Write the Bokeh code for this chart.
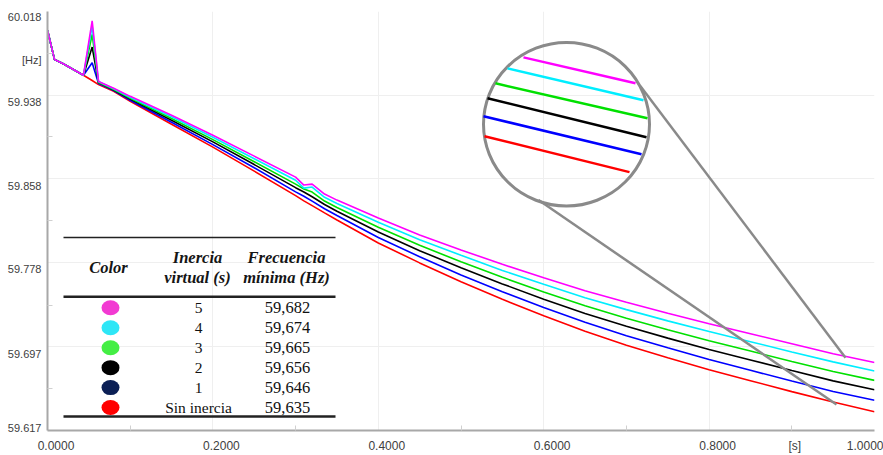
from bokeh.plotting import figure
from bokeh.models import Range1d, FixedTicker, CustomJSTickFormatter
from bokeh.core.properties import value
from bokeh.embed import file_html
from bokeh.resources import INLINE

# ---------------- data ----------------
time_s = [0.0, 0.0085, 0.019, 0.0435, 0.054, 0.0617, 0.08, 0.10, 0.15, 0.20, 0.25, 0.30,
          0.31, 0.32, 0.335, 0.35, 0.40, 0.45, 0.50, 0.55, 0.60, 0.65, 0.70, 0.75, 0.80,
          0.85, 0.90, 0.95, 1.00]

freq_h5 = [60.000, 59.972, 59.968, 59.957, 60.009, 59.951, 59.9445, 59.9368, 59.9187, 59.8996,
           59.8796, 59.8595, 59.8519, 59.8528, 59.8433, 59.8375, 59.8204, 59.8041, 59.7898,
           59.7760, 59.7631, 59.7507, 59.7397, 59.7292, 59.7192, 59.7096, 59.7001, 59.6905,
           59.682]
freq_h4 = [60.000, 59.972, 59.968, 59.957, 60.004, 59.951, 59.9440, 59.9360, 59.9173, 59.8977,
           59.8771, 59.8565, 59.8490, 59.8500, 59.8402, 59.8343, 59.8163, 59.7995, 59.7847,
           59.7702, 59.7569, 59.7441, 59.7327, 59.7219, 59.7117, 59.7020, 59.6922, 59.6827,
           59.674]
freq_h3 = [60.000, 59.972, 59.968, 59.957, 59.996, 59.950, 59.9434, 59.9350, 59.9156, 59.8954,
           59.8742, 59.8528, 59.8481, 59.8452, 59.8366, 59.8305, 59.8115, 59.7942, 59.7785,
           59.7636, 59.7496, 59.7363, 59.7245, 59.7134, 59.7029, 59.6930, 59.6831, 59.6734,
           59.665]
freq_h2 = [60.000, 59.972, 59.968, 59.957, 59.984, 59.950, 59.9429, 59.9342, 59.9139, 59.8932,
           59.8715, 59.8494, 59.8453, 59.8407, 59.8333, 59.8269, 59.8070, 59.7891, 59.7727,
           59.7573, 59.7427, 59.7290, 59.7167, 59.7054, 59.6945, 59.6845, 59.6744, 59.6645,
           59.656]
freq_h1 = [60.000, 59.972, 59.968, 59.957, 59.969, 59.949, 59.9423, 59.9331, 59.9120, 59.8906,
           59.8684, 59.8454, 59.8412, 59.8365, 59.8292, 59.8227, 59.8017, 59.7833, 59.7659,
           59.7499, 59.7348, 59.7205, 59.7077, 59.6961, 59.6849, 59.6746, 59.6644, 59.6544,
           59.646]
freq_h0 = [60.000, 59.972, 59.968, 59.957, 59.952, 59.948, 59.9416, 59.9321, 59.9101, 59.8882,
           59.8652, 59.8418, 59.8368, 59.8322, 59.8253, 59.8185, 59.7965, 59.7774, 59.7593,
           59.7426, 59.7268, 59.7120, 59.6986, 59.6867, 59.6752, 59.6647, 59.6542, 59.6442,
           59.635]

line_colors = ["#ff0000", "#0000ff", "#000000", "#00e000", "#00eeff", "#ff00ff"]  # H=0..5
series = [freq_h0, freq_h1, freq_h2, freq_h3, freq_h4, freq_h5]

# table
table_inertia = ["5", "4", "3", "2", "1", "Sin inercia"]
table_fmin = ["59,682", "59,674", "59,665", "59,656", "59,646", "59,635"]
table_dot_colors = ["#f23ad2", "#2ee6f6", "#44ee44", "#000000", "#0b1f55", "#ff0000"]

# axis ticks (grid positions) and their labels; the unit labels sit between ticks
xtick_vals = [0.0, 0.2, 0.4, 0.6, 0.8, 1.0]
xtick_labels = ["0.0000", "0.2000", "0.4000", "0.6000", "0.8000", "1.0000"]
xminor_vals = [0.1, 0.3, 0.5, 0.7, 0.9]
x_unit_pos, x_unit_label = 0.9, "[s]"
ytick_vals = [59.617, 59.697, 59.778, 59.858, 59.938, 60.018]
ytick_labels = ["59.617", "59.697", "59.778", "59.858", "59.938", "60.018"]
yminor_vals = [59.657, 59.737, 59.818, 59.898, 59.978]
y_unit_pos, y_unit_label = 59.978, "[Hz]"

X0, X1 = 0.0, 1.0
Y0, Y1 = 59.617, 60.018

# ---------------- figure ----------------
FRAME_L, FRAME_T, FRAME_W, FRAME_H = 47, 11, 827, 420
W, H = 883, 455
p = figure(width=W, height=H, output_backend="svg", toolbar_location=None,
           x_range=Range1d(X0, X1), y_range=Range1d(Y0, Y1),
           min_border_left=FRAME_L, min_border_right=W - FRAME_L - FRAME_W,
           min_border_top=FRAME_T, min_border_bottom=H - FRAME_T - FRAME_H)
p.extra_x_ranges = {"px": Range1d(FRAME_L, FRAME_L + FRAME_W)}
p.extra_y_ranges = {"px": Range1d(FRAME_T + FRAME_H, FRAME_T)}
p.outline_line_color = None
p.background_fill_color = "white"
p.border_fill_color = "white"

# label anchors: the reference prints its tick texts slightly displaced from the grid lines
XPX = (X1 - X0) / FRAME_W
YPX = (Y1 - Y0) / FRAME_H
x_shift_px = [8.5, 8.5, 8.5, 8.5, 8.5, -8.0]
x_anchor = [v + s * XPX for v, s in zip(xtick_vals, x_shift_px)] + [x_unit_pos + 3 * XPX]
x_text = xtick_labels + [x_unit_label]
xo = sorted(range(len(x_anchor)), key=lambda i: x_anchor[i])
y_shift_px = [-3.0, 7.0, 7.0, 7.0, 7.0, 6.0]
y_anchor = [v - s * YPX for v, s in zip(ytick_vals, y_shift_px)] + [y_unit_pos - 7 * YPX]
y_text = ytick_labels + [y_unit_label]
yo = sorted(range(len(y_anchor)), key=lambda i: y_anchor[i])

TICK_FONT = "Liberation Sans"
axes = ((p.xaxis[0], [x_anchor[i] for i in xo], [x_text[i] for i in xo], xminor_vals, "12px", 8),
        (p.yaxis[0], [y_anchor[i] for i in yo], [y_text[i] for i in yo], yminor_vals, "11px", 6))
for ax, anchors, texts, minor, fsize, standoff in axes:
    ax.ticker = FixedTicker(ticks=anchors, minor_ticks=minor)
    ax.formatter = CustomJSTickFormatter(args=dict(labels=texts),
                                         code="return labels[index] ?? ''")
    ax.major_label_text_font = TICK_FONT
    ax.major_label_text_font_size = fsize
    ax.major_label_text_color = "#404040"
    ax.major_label_standoff = standoff
    ax.axis_line_color = "#a8a8a8"
    ax.axis_line_width = 2
    ax.major_tick_line_color = None
    ax.major_tick_in = 0
    ax.major_tick_out = 0
    ax.minor_tick_in = 5
    ax.minor_tick_out = 0
    ax.minor_tick_line_color = "#d0d0d0"
p.yaxis[0].major_label_text_baseline = "middle"

p.xgrid.ticker = FixedTicker(ticks=xtick_vals)
p.ygrid.ticker = FixedTicker(ticks=ytick_vals)
p.xgrid.grid_line_color = "#efefef"
p.ygrid.grid_line_color = "#efefef"

# data lines
for vals, col in zip(series, line_colors):
    p.line(time_s, vals, line_color=col, line_width=1.6)

# ---------------- table (pixel space) ----------------
PX = dict(x_range_name="px", y_range_name="px")
serif = value("Liberation Serif")
p.segment(x0=[63, 63, 63], y0=[237.5, 297, 417], x1=[335, 335, 335], y1=[237.5, 297, 417],
          line_color="#222222", line_width=[1.5, 2.5, 2.5], **PX)
p.text(x=[108, 197, 197, 286, 286], y=[268, 258, 278, 258, 278],
       text=["Color", "Inercia", "virtual (s)", "Frecuencia", "mínima (Hz)"],
       text_font=serif, text_font_style="bold italic", text_font_size="16.5px",
       text_align="center", text_baseline="middle", text_color="#151515", **PX)
row_y = [308, 328, 348, 368, 388, 408]
p.ellipse(x=[110] * 6, y=row_y, width=18, height=15, fill_color=table_dot_colors,
          line_color=None, **PX)
p.text(x=[198] * 6, y=row_y, text=table_inertia, text_font=serif, text_font_size="15.5px",
       text_align="center", text_baseline="middle", text_color="#111111", **PX)
p.text(x=[287] * 6, y=row_y, text=table_fmin, text_font=serif, text_font_size="16.5px",
       text_align="center", text_baseline="middle", text_color="#111111", **PX)

# ---------------- magnifier (pixel space) ----------------
p.segment(x0=[640, 538], y0=[86, 200], x1=[845, 836], y1=[358, 405],
          line_color="#8a8a8a", line_width=2.5, **PX)
p.ellipse(x=566, y=124, width=166, height=164, fill_color=None,
          line_color="#8a8a8a", line_width=3, **PX)
mag_colors = ["#ff00ff", "#00eeff", "#00e000", "#000000", "#0000ff", "#ff0000"]
p.segment(x0=[523, 507, 495, 487, 483, 484], y0=[57, 68, 83, 98, 116, 136],
          x1=[635, 643, 647, 646, 641, 629], y1=[83, 100, 118, 137, 154, 172],
          line_color=mag_colors, line_width=2.5, **PX)

open("out.html", "w").write(file_html(p, INLINE))
